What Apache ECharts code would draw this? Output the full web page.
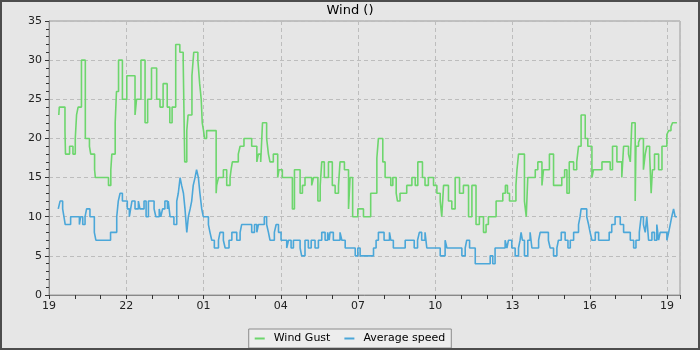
<!DOCTYPE html>
<html>
<head>
<meta charset="utf-8">
<script src="https://cdn.jsdelivr.net/npm/echarts@6/dist/echarts.min.js"></script>
<style>
html,body{margin:0;padding:0;background:#e6e6e6;}
#chart{width:700px;height:350px;}
</style>
</head>
<body>
<div id="chart"></div>
<script>
// Hours counted from the first tick (19:00)
var startHour = 19;
var seriesNames = ['Wind Gust', 'Average speed'];

var gustHours = [0.38,0.40,0.62,0.64,0.80,0.93,1.02,1.07,1.13,1.26,1.41,1.57,1.62,1.77,1.80,2.31,2.40,2.44,2.57,2.62,2.70,2.85,3.02,3.34,3.40,3.57,3.73,3.83,3.98,4.18,4.31,4.43,4.59,4.69,4.78,4.92,5.08,5.21,5.27,5.35,5.40,5.55,5.62,5.78,5.85,5.91,5.95,6.00,6.04,
 6.12,6.49,6.51,6.58,6.77,6.90,7.03,7.07,7.12,7.35,7.42,7.57,7.87,8.07,8.13,8.22,8.29,8.45,8.52,8.58,8.71,8.88,8.93,9.06,9.45,9.53,9.75,9.84,9.94,10.20,10.27,10.44,10.53,10.59,10.69,10.85,11.00,11.11,11.24,11.30,11.47,11.63,11.69,11.79,11.99,
 12.21,12.49,12.73,12.79,12.96,13.05,13.27,13.35,13.48,13.53,13.63,13.89,14.09,14.22,14.32,14.50,14.60,14.73,14.93,15.06,15.19,15.25,15.32,15.51,15.64,15.77,15.94,16.09,16.29,16.42,16.58,16.71,16.87,16.97,17.06,17.36,17.62,17.72,17.80,17.88,
 18.13,18.17,18.23,18.46,18.53,18.59,18.88,18.98,19.14,19.20,19.43,19.59,19.91,20.02,20.11,20.20,20.37,20.49,20.56,20.66,20.82,20.92,21.08,21.14,21.47,21.79,21.88,22.05,22.24,22.31,22.50,22.57,22.63,22.76,22.79,22.89,22.95,23.08,23.15,23.21,23.32,23.38,23.43,23.51,23.67,23.80,23.99,24.06,24.15,24.21,24.38];
var gustSpeed = [23,24,21,18,19,18,20,23,24,30,20,19,18,16,15,14,16,18,22,26,30,25,28,23,25,30,22,25,29,25,24,27,24,22,24,32,31,30,17,21,23,28,31,30,27,25,22,21,20,
 21,13,14,15,16,14,15,16,17,18,19,20,19,17,18,17,22,20,18,17,18,15,16,15,11,16,13,14,15,14,15,12,14,17,15,17,14,13,14,17,16,11,15,10,11,
 10,13,17.5,20,17,15,14,15,13,12,13,14,15,14,17,15,14,15,14,13,12,10,14,12,11,15,13,14,10,14,9,10,8,9,10,12,13,14,13,12,
 14,16,18,12,10,15,16,17,14,16,18,14,15,16,13,17,16,17,19,23,20,19,15,16,17,16,19,17,15,19,18,17,22,12,19,19.5,20,16,18,19,18,13,16,18,16,19,20.5,21,21.5,22,22];

var avgHours = [0.36,0.43,0.53,0.58,0.63,0.84,1.18,1.23,1.31,1.40,1.46,1.59,1.76,1.82,2.39,2.63,2.69,2.76,2.85,3.04,3.12,3.17,3.22,3.34,3.47,3.53,3.69,3.77,3.86,4.08,4.15,4.28,4.34,4.41,4.50,4.60,4.63,4.70,4.85,4.96,5.02,5.09,5.15,5.22,5.28,5.35,5.41,5.48,5.54,5.60,5.67,5.73,5.80,5.86,5.93,5.99,
 6.19,6.25,6.32,6.42,6.58,6.64,6.77,6.84,6.99,7.10,7.29,7.42,7.48,7.87,7.98,8.07,8.13,8.36,8.45,8.52,8.58,8.75,8.82,8.91,9.01,9.23,9.30,9.40,9.49,9.75,9.81,9.94,10.07,10.18,10.33,10.46,10.59,10.72,10.82,10.88,10.91,11.04,11.30,11.37,11.50,11.89,11.99,12.08,
 12.60,12.70,12.79,13.01,13.22,13.27,13.37,13.83,14.18,14.31,14.38,14.47,14.60,14.67,15.19,15.38,15.45,16.03,16.16,16.22,16.33,16.55,17.13,17.23,17.32,17.71,17.78,17.84,17.97,18.10,
 18.23,18.29,18.33,18.38,18.46,18.59,18.68,18.75,19.01,19.07,19.39,19.46,19.59,19.72,19.78,19.89,20.04,20.15,20.24,20.37,20.56,20.62,20.66,20.88,20.95,21.01,21.08,21.21,21.34,21.75,21.85,21.98,22.18,22.31,22.57,22.70,22.79,22.92,22.99,23.08,23.15,23.21,23.28,23.41,23.51,23.60,23.67,23.73,23.99,24.06,24.12,24.18,24.25,24.31,24.38];
var avgSpeed = [11,12,11,10,9,10,9,10,9,10,11,10,8,7,8,10,12,13,12,11,10,11,12,11,12,11,12,10,12,11,10,11,10,11,12,11,12,10,9,12,13,15,14,13,11,8,10,11,12,14,15,16,15,13,11,10,
 9,8,7,6,7,8,7,6,7,8,7,8,9,8,9,8,9,10,9,8,7,8,9,8,7,6,7,6,7,6,5,7,6,7,6,7,8,7,8,7,8,7,8,7,6,5,6,5,
 6,7,8,7,8,7,6,7,6,7,8,7,8,6,5,7,6,5,6,7,6,4,5,4,6,7,6,7,6,5,
 6,7,8,7,5,7,8,6,7,8,7,6,5,6,7,8,7,6,7,8,9,10,11,10,9,8,7,8,7,8,9,10,9,8,7,6,7,8,10,9,8,10,7,8,7,9,7,8,7,8,9,10,11,10,10];

function pairs(xs, ys) {
  var out = [];
  for (var i = 0; i < xs.length; i++) out.push([xs[i], ys[i]]);
  return out;
}

var chart = echarts.init(document.getElementById('chart'), null, {renderer: 'canvas'});
var font = 'DejaVu Sans';
chart.setOption({
  backgroundColor: '#e6e6e6',
  animation: false,
  textStyle: {fontFamily: font},
  graphic: [{
    type: 'rect', silent: true, z: 100,
    shape: {x: 1, y: 1, width: 698, height: 348},
    style: {fill: 'none', stroke: '#4d4d4d', lineWidth: 2}
  }],
  title: {
    text: 'Wind ()', left: 'center', top: 4, padding: 0,
    textStyle: {fontFamily: font, fontSize: 13, fontWeight: 'normal', color: '#000'}
  },
  legend: {
    bottom: 2, left: 'center',
    data: seriesNames,
    icon: 'rect',
    itemWidth: 10, itemHeight: 2, itemGap: 14,
    padding: [4, 6],
    borderColor: '#8c8c8c', borderWidth: 1,
    backgroundColor: '#ededed',
    borderRadius: 0,
    textStyle: {fontFamily: font, fontSize: 11, color: '#000', padding: [0, 0, 0, 4]}
  },
  grid: {
    left: 49, right: 20, top: 21, bottom: 55,
    show: true, borderColor: '#9a9a9a', borderWidth: 1, backgroundColor: 'transparent'
  },
  xAxis: {
    type: 'value', min: 0, max: 24.5, interval: 3,
    axisLine: {show: true, lineStyle: {color: '#888', width: 1}},
    axisTick: {show: true, length: 4, inside: false, lineStyle: {color: '#333'}},
    minorTick: {show: true, splitNumber: 3, length: 4, lineStyle: {color: '#333'}},
    axisLabel: {
      fontFamily: font, fontSize: 11, color: '#222', margin: 6,
      formatter: function (v) {
        if (Math.abs(v / 3 - Math.round(v / 3)) > 1e-6) return '';
        var h = (startHour + Math.round(v)) % 24;
        return (h < 10 ? '0' : '') + h;
      }
    },
    splitLine: {show: true, lineStyle: {color: '#bdbdbd', type: [4, 3], width: 1}},
    minorSplitLine: {show: false}
  },
  yAxis: {
    type: 'value', min: 0, max: 35, interval: 5,
    axisLine: {show: true, lineStyle: {color: '#888', width: 1}},
    axisTick: {show: true, length: 4, lineStyle: {color: '#333'}},
    minorTick: {show: true, splitNumber: 5, length: 3, lineStyle: {color: '#333'}},
    axisLabel: {fontFamily: font, fontSize: 11, color: '#222', margin: 7},
    splitLine: {show: true, lineStyle: {color: '#bdbdbd', type: [4, 3], width: 1}}
  },
  series: [
    {
      name: seriesNames[0], type: 'line', step: 'end', symbol: 'none',
      data: pairs(gustHours, gustSpeed),
      lineStyle: {color: '#6dd66d', width: 1.6},
      itemStyle: {color: '#6dd66d'}
    },
    {
      name: seriesNames[1], type: 'line', step: 'end', symbol: 'none',
      data: pairs(avgHours, avgSpeed),
      lineStyle: {color: '#4ba7d9', width: 1.6},
      itemStyle: {color: '#4ba7d9'}
    }
  ]
});
</script>
</body>
</html>
